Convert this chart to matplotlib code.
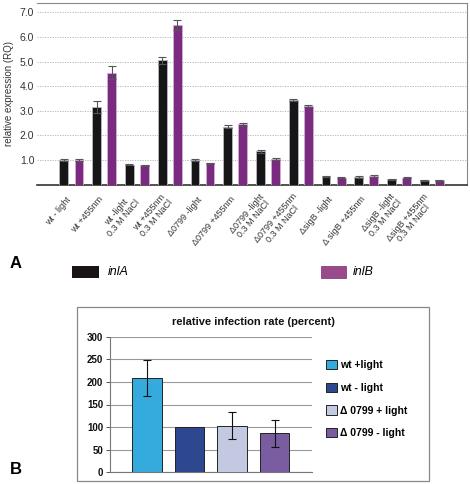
import matplotlib
matplotlib.use("Agg")
import matplotlib.pyplot as plt
import numpy as np
from matplotlib.patches import Rectangle

plt.rcParams["font.family"] = ["Liberation Sans", "DejaVu Sans"]

# ---------- Panel A data ----------
conditions = ["wt - light", "wt +455nm", "wt -light\n0.3 M NaCl", "wt +455nm\n0.3 M NaCl",
              "Δ0799 -light", "Δ0799 +455nm", "Δ0799 -light\n0.3 M NaCl",
              "Δ0799 +455nm\n0.3 M NaCl", "ΔsigB -light", "Δ sigB +455nm",
              "ΔsigB -light\n0.3 M NaCl", "ΔsigB +455nm\n0.3 M NaCl"]
inlA = [1.0, 3.15, 0.80, 5.05, 1.0, 2.35, 1.35, 3.45, 0.32, 0.30, 0.22, 0.17]
inlA_err = [0.03, 0.25, 0.02, 0.13, 0.03, 0.06, 0.06, 0.05, 0.03, 0.03, 0.02, 0.02]
inlB = [1.0, 4.55, 0.78, 6.50, 0.87, 2.45, 1.05, 3.20, 0.28, 0.35, 0.28, 0.18]
inlB_err = [0.03, 0.27, 0.02, 0.20, 0.02, 0.05, 0.05, 0.05, 0.03, 0.04, 0.03, 0.02]
a_ticks = [1.0, 2.0, 3.0, 4.0, 5.0, 6.0, 7.0]

# ---------- Panel B data ----------
b_labels = ["wt +light", "wt - light", "Δ 0799 + light", "Δ 0799 - light"]
b_values = [209, 100, 103, 86]
b_err = [40, 0, 30, 30]
b_colors = ["#35aadc", "#2e4890", "#c4c9e2", "#7a5ca0"]
b_ticks = [0, 50, 100, 150, 200, 250, 300]

fig = plt.figure(figsize=(4.70, 4.84), dpi=100)

# ---------- Panel A ----------
axA = fig.add_axes([37/470, 1-184.6/484, (467-37)/470, (184.6-3.3)/484])
x = np.arange(len(conditions))
w = 0.27
off = 0.23
axA.bar(x - off, inlA, w, color="#161616", edgecolor="#b8b8c8", linewidth=0.6, zorder=3)
axA.bar(x + off, inlB, w, color="#7a2a80", edgecolor="#d0b0d0", linewidth=0.6, zorder=3)
axA.errorbar(x - off, inlA, yerr=inlA_err, fmt="none", ecolor="#555555",
             elinewidth=0.8, capsize=3, capthick=0.8, zorder=4)
axA.errorbar(x + off, inlB, yerr=inlB_err, fmt="none", ecolor="#555555",
             elinewidth=0.8, capsize=3, capthick=0.8, zorder=4)
axA.set_ylim(0, 7.37)
axA.set_xlim(-1.05, len(conditions) - 1 + 1.07)
axA.set_yticks(a_ticks)
axA.set_yticklabels([f"{t:.1f}" for t in a_ticks], fontsize=7.5, color="#333333")
axA.yaxis.grid(True, linestyle=(0, (1.5, 1.5)), color="#b0b0b0", linewidth=0.6, zorder=0)
axA.set_axisbelow(True)
axA.tick_params(axis="y", length=0, pad=2)
axA.set_xticks(x - 0.07)
axA.set_xticklabels(conditions, rotation=50, ha="right", va="center",
                    rotation_mode="anchor", multialignment="center",
                    fontsize=6.5, color="#333333", linespacing=0.95)
axA.tick_params(axis="x", length=0, pad=9.5)
axA.set_ylabel("relative expression (RQ)", fontsize=7, color="#333333", labelpad=4)
for s in ["top", "right"]:
    axA.spines[s].set_color("#888888")
    axA.spines[s].set_linewidth(0.8)
axA.spines["left"].set_visible(False)
axA.spines["bottom"].set_color("#333333")
axA.spines["bottom"].set_linewidth(1.2)

fig.text(10/470, 1-263/484, "A", fontsize=12, fontweight="bold", va="center", ha="left")
fig.patches.append(Rectangle((72/470, 1-278/484), 27/470, 12/484, transform=fig.transFigure,
                             facecolor="#1a1414", edgecolor="none"))
fig.text(108/470, 1-272/484, "inlA", fontsize=9, style="italic", va="center", ha="left")
fig.patches.append(Rectangle((321/470, 1-278/484), 25/470, 12/484, transform=fig.transFigure,
                             facecolor="#9a4a88", edgecolor="#7a2a70", linewidth=0.5))
fig.text(353/470, 1-272/484, "inlB", fontsize=9, style="italic", va="center", ha="left")

# ---------- Panel B ----------
fig.patches.append(Rectangle((77/470, 1-481/484), (429-77)/470, (481-307)/484,
                             transform=fig.transFigure, facecolor="none",
                             edgecolor="#888888", linewidth=0.9))
axB = fig.add_axes([110/470, 1-472.3/484, (312-110)/470, (472.3-336.7)/484])
axB.patch.set_alpha(0)
xb = np.arange(len(b_values))
for i in range(len(b_values)):
    axB.bar(xb[i], b_values[i], 0.7, color=b_colors[i], edgecolor="#222222",
            linewidth=0.7, label=b_labels[i], zorder=3)
for i in range(len(b_values)):
    if b_err[i] > 0:
        axB.errorbar(xb[i], b_values[i], yerr=b_err[i], fmt="none", ecolor="#111111",
                     elinewidth=0.8, capsize=3, capthick=0.8, zorder=4)
axB.set_ylim(0, 300)
axB.set_xlim(-0.87, len(b_values) - 1 + 0.88)
axB.set_yticks(b_ticks)
axB.set_yticklabels([str(t) for t in b_ticks], fontsize=7, fontweight="bold", color="#111111")
axB.yaxis.grid(True, color="#999999", linewidth=0.8, zorder=0)
axB.set_axisbelow(True)
axB.tick_params(axis="y", length=3, width=0.7, color="#555555", pad=2)
axB.set_xticks([])
for s in ["top", "right"]:
    axB.spines[s].set_visible(False)
axB.spines["left"].set_color("#777777")
axB.spines["bottom"].set_color("#777777")
fig.text(253/470, 1-322/484, "relative infection rate (percent)", fontsize=8,
         fontweight="bold", color="#111111", ha="center", va="center")
leg = axB.legend(loc="upper left", bbox_to_anchor=(1.05, 0.86), frameon=False,
                 prop={"weight": "bold", "size": 7.5}, handlelength=1.0,
                 handleheight=1.0, handletextpad=0.3, labelspacing=1.2, borderaxespad=0)
fig.text(10/470, 1-470/484, "B", fontsize=12, fontweight="bold", va="center", ha="left")

fig.savefig("out.png", dpi=100)
